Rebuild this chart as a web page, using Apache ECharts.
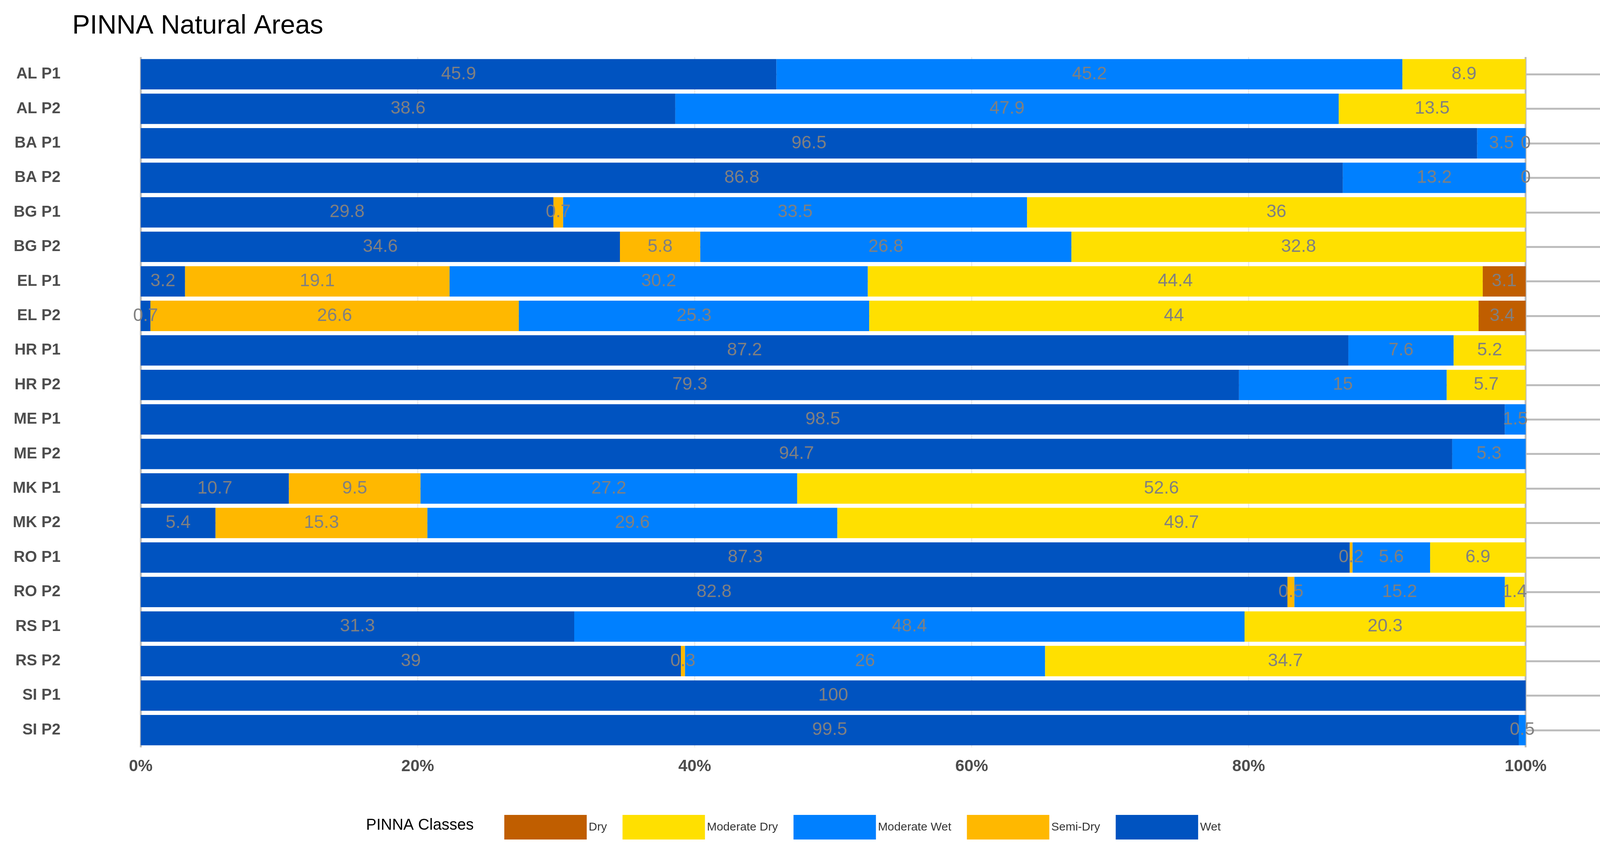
<!DOCTYPE html>
<html>
<head>
<meta charset="utf-8">
<script src="https://cdn.jsdelivr.net/npm/echarts@6/dist/echarts.min.js"></script>
<style>html,body{margin:0;padding:0;background:#fff}#chart{width:4120px;height:2182px}</style>
</head>
<body>
<div id="chart"></div>
<script>
var sites = ['AL P1','AL P2','BA P1','BA P2','BG P1','BG P2','EL P1','EL P2','HR P1','HR P2',
	'ME P1','ME P2','MK P1','MK P2','RO P1','RO P2','RS P1','RS P2','SI P1','SI P2'];
// stacking order left to right: Wet, Semi-Dry, Moderate Wet, Moderate Dry, Dry
var wet = [45.9,38.6,96.5,86.8,29.8,34.6,3.2,0.7,87.2,79.3,98.5,94.7,10.7,5.4,87.3,82.8,31.3,39,100,99.5];
var semiDry = [null,null,null,null,0.7,5.8,19.1,26.6,null,null,null,null,9.5,15.3,0.2,0.5,null,0.3,null,null];
var moderateWet = [45.2,47.9,3.5,13.2,33.5,26.8,30.2,25.3,7.6,15,1.5,5.3,27.2,29.6,5.6,15.2,48.4,26,null,0.5];
var moderateDry = [8.9,13.5,0,0,36,32.8,44.4,44,5.2,5.7,null,null,52.6,49.7,6.9,1.4,20.3,34.7,null,null];
var dry = [null,null,null,null,null,null,3.1,3.4,null,null,null,null,null,null,null,null,null,null,null,null];
var xTicks = [0,20,40,60,80,100];

var myChart = echarts.init(document.getElementById('chart'));
var font = 'Liberation Sans, Arial, sans-serif';

function makeSeries(name, values, color) {
	return {
		name: name,
		type: 'bar',
		stack: 'all',
		barCategoryGap: '12%',
		data: values,
		itemStyle: {color: color},
		label: {
			show: true,
			position: 'inside',
			color: '#808080',
			fontSize: 46,
			fontFamily: font,
			formatter: function(p) { return p.value == null ? '' : String(p.value); }
		}
	};
}

var series = [
	makeSeries('Wet', wet, '#0053C0'),
	makeSeries('Semi-Dry', semiDry, '#FFB800'),
	makeSeries('Moderate Wet', moderateWet, '#0080FF'),
	makeSeries('Moderate Dry', moderateDry, '#FFE000'),
	makeSeries('Dry', dry, '#C05E00')
];
// vertical grid lines
series[0].markLine = {
	silent: true,
	symbol: 'none',
	label: {show: false},
	z: 1,
	data: xTicks.map(function(v) {
		var edge = (v === 0 || v === 100);
		return {xAxis: v, lineStyle: {color: edge ? '#bdbdbd' : '#ebebeb', width: edge ? 5 : 3, type: 'solid'}};
	})
};

option = {
	title: {
		text: 'PINNA Natural Areas',
		left: 180, top: 28,
		textStyle: {fontSize: 68, fontWeight: 'normal', color: '#000', fontFamily: font}
	},
	grid: {left: 183, right: 37, top: 146, bottom: 268, containLabel: false},
	xAxis: {
		type: 'value', min: -5, max: 105,
		axisLine: {show: false}, axisTick: {show: false}, splitLine: {show: false},
		axisLabel: {
			customValues: xTicks,
			formatter: function(v) { return v + '%'; },
			fontSize: 42, fontWeight: 'bold', color: '#4d4d4d', fontFamily: font, margin: 28
		}
	},
	yAxis: {
		type: 'category', data: sites, inverse: true,
		axisLine: {show: false},
		axisTick: {show: true, inside: true, alignWithLabel: true, length: 3900,
			lineStyle: {color: '#bdbdbd', width: 5}},
		axisLabel: {fontSize: 40, fontWeight: 'bold', color: '#4d4d4d', fontFamily: font, margin: 28}
	},
	legend: {
		data: ['Dry','Moderate Dry','Moderate Wet','Semi-Dry','Wet'],
		left: 1286, top: 2082,
		itemWidth: 211, itemHeight: 63, itemGap: 40,
		icon: 'rect',
		textStyle: {fontSize: 30, color: '#333', fontFamily: font}
	},
	graphic: [{
		type: 'text', left: 937, top: 2094,
		style: {text: 'PINNA Classes', fontSize: 40, fill: '#000', fontFamily: font}
	}],
	series: series
};
myChart.setOption(option);
</script>
</body>
</html>
